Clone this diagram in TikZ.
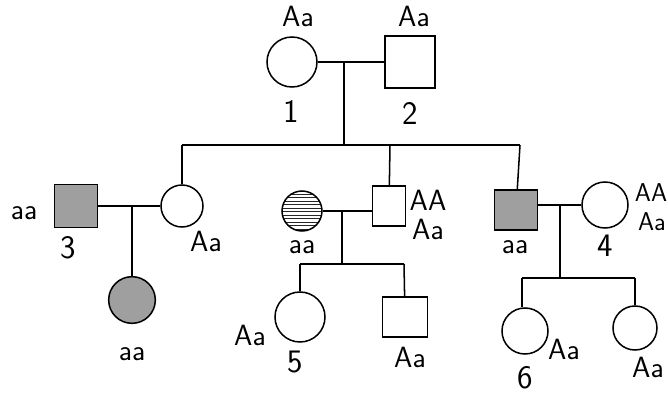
\documentclass[tikz,border=0pt]{standalone}
\usepackage{tikz}
\usetikzlibrary{patterns}

\begin{document}
\begin{tikzpicture}[
    x=0.03cm, y=-0.03cm, line width=1.3pt,
    female/.style={draw, circle, inner sep=0pt, fill=white},
    male/.style={draw, rectangle, inner sep=0pt, fill=white},
    affected/.style={fill=gray!75},
    hatched/.style={fill=gray!55, pattern color=black!85, pattern=horizontal lines},
    geno/.style={font=\sffamily\fontsize{25}{26}\selectfont, inner sep=1pt},
    idlabel/.style={font=\sffamily\fontsize{28}{30}\selectfont, inner sep=1pt}
]
    \useasboundingbox (0,0) rectangle (668,395);

    % ================= GENERATION I =================
    \node[female, minimum size=1.5cm] (I1) at (292,62) {};
    \node[male, minimum width=1.5cm, minimum height=1.55cm] (I2) at (410,62) {};

    \node[geno] (g_I1) at (298,16) {Aa};
    \node[geno] (g_I2) at (414,16) {Aa};
    \node[idlabel] (n_I1) at (291,111) {1};
    \node[idlabel] (n_I2) at (410,113) {2};

    \draw (I1) -- (I2);
    \coordinate (m12) at (344,62);
    \coordinate (sib1) at (344,145);
    \draw (m12) -- (sib1);

    % ================= GENERATION II =================
    \coordinate (sibL) at (182,145);
    \coordinate (sibM) at (390,145);
    \coordinate (sibR) at (520,145);
    \draw (sibL) -- (sibR);

    % --- left couple ---
    \node[male, affected, minimum width=1.3cm, minimum height=1.3cm] (II1) at (76,206) {};
    \node[female, minimum size=1.26cm] (II2) at (182,206) {};
    \draw (sibL) -- (II2);
    \draw (II1) -- (II2);

    \node[geno] (g_II1) at (24,213) {aa};
    \node[idlabel] (n_II1) at (68,248) {3};
    \node[geno] (g_II2) at (206,241) {Aa};

    % --- middle couple ---
    \node[female, hatched, minimum size=1.2cm] (II3) at (302,211) {};
    \node[male, minimum width=1cm, minimum height=1.2cm] (II4) at (389,206) {};
    \draw (sibM) -- (II4);
    \draw (II3) -- (II3 -| II4.west);

    \node[geno] (g_II4a) at (428,200) {AA};
    \node[geno] (g_II4b) at (428,229) {Aa};
    \node[geno] (g_II3) at (302,247) {aa};

    % --- right couple ---
    \node[male, affected, minimum width=1.3cm, minimum height=1.2cm] (II5) at (516,210) {};
    \node[female, minimum size=1.38cm] (II6) at (605,205) {};
    \draw (sibR) -- (II5);
    \draw (II5.east |- II6) -- (II6);

    \node[geno] (g_II5) at (515,247) {aa};
    \node[idlabel] (n_II6) at (605,246) {4};
    \node[geno, font=\sffamily\fontsize{22}{23}\selectfont] (g_II6a) at (651,193) {AA};
    \node[geno, font=\sffamily\fontsize{22}{23}\selectfont] (g_II6b) at (652,222) {Aa};

    % ================= GENERATION III =================
    % --- child of left couple ---
    \coordinate (m34) at (132,206);
    \node[female, affected, minimum size=1.4cm] (III1) at (132,300) {};
    \draw (m34) -- (III1);
    \node[geno] (g_III1) at (132,354) {aa};

    % --- children of middle couple ---
    \coordinate (mMid) at (342,211);
    \coordinate (sibM2) at (342,264);
    \coordinate (sibM2L) at (300,264);
    \coordinate (sibM2R) at (404,264);
    \draw (mMid) -- (sibM2);
    \draw (sibM2L) -- (sibM2R);

    \node[female, minimum width=1.4cm, minimum height=1.5cm] (III2) at (300,317) {};
    \node[male, minimum width=1.35cm, minimum height=1.2cm] (III3) at (405,317) {};
    \draw (sibM2L) -- (III2);
    \draw (sibM2R) -- (III3);

    \node[geno] (g_III2) at (250,335) {Aa};
    \node[idlabel] (n_III2) at (295,362) {5};
    \node[geno] (g_III3) at (410,357) {Aa};

    % --- children of right couple ---
    \coordinate (mRight) at (560,205);
    \coordinate (sibR2) at (560,278);
    \coordinate (sibR2L) at (522,278);
    \coordinate (sibR2R) at (635,278);
    \draw (mRight) -- (sibR2);
    \draw (sibR2L) -- (sibR2R);

    \node[female, minimum size=1.38cm] (III4) at (525,331) {};
    \node[female, minimum size=1.32cm] (III5) at (635,328) {};
    \draw (sibR2L) -- (III4.north -| sibR2L);
    \draw (sibR2R) -- (III5);

    \node[geno] (g_III4) at (564,349) {Aa};
    \node[idlabel] (n_III4) at (525,378) {6};
    \node[geno] (g_III5) at (648,367) {Aa};

\end{tikzpicture}
\end{document}
